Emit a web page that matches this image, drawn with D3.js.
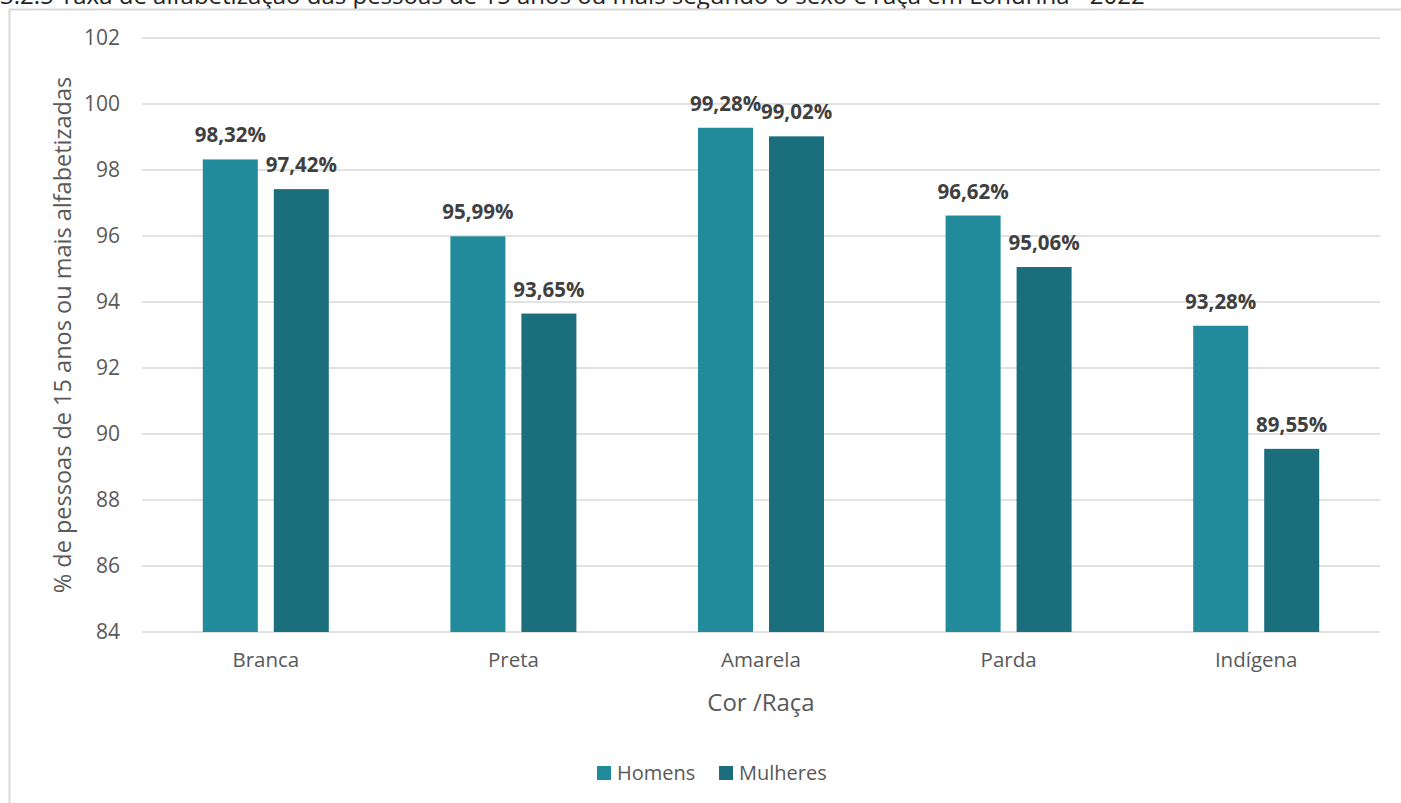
<!DOCTYPE html>
<html lang="pt">
<head>
<meta charset="UTF-8">
<title>Taxa de alfabetização</title>
<script src="https://d3js.org/d3.v7.min.js"></script>
<style>
  body { margin: 0; background: #fff; overflow: hidden; }
  svg { display: block; font-family: "Open Sans", "Noto Sans", sans-serif; }
</style>
</head>
<body>
<svg id="chart" width="1401" height="803"></svg>
<script>
// data
const categories = ["Branca", "Preta", "Amarela", "Parda", "Indígena"];
const seriesNames = ["Homens", "Mulheres"];
const homens = [98.32, 95.99, 99.28, 96.62, 93.28];
const mulheres = [97.42, 93.65, 99.02, 95.06, 89.55];
const yTicks = [84, 86, 88, 90, 92, 94, 96, 98, 100, 102];
const colors = ["#218a9b", "#1b6e7c"];

const svg = d3.select("#chart");

// title (only its lower part shows above the frame)
svg.append("text")
    .attr("x", 0).attr("y", 4)
    .attr("font-size", 24).attr("fill", "#222")
    .text("3.2.5 Taxa de alfabetização das pessoas de 15 anos ou mais segundo o sexo e raça em Londrina - 2022");

// chart frame: top and left edges only, the rest runs off the page
svg.append("path")
    .attr("d", "M9.5,830V9.5H1410")
    .attr("fill", "none").attr("stroke", "#d9d9d9").attr("stroke-width", 2);

const plotLeft = 142, plotRight = 1380, plotTop = 38, plotBottom = 632;

const x0 = d3.scaleBand().domain(categories).range([plotLeft, plotRight]).padding(0);
const x1 = d3.scaleBand().domain(seriesNames).range([-63, 63]).paddingInner(0.2254).paddingOuter(0);
const y = d3.scaleLinear().domain([84, 102]).range([plotBottom, plotTop]);

// gridlines
svg.append("g").selectAll("line").data(yTicks).enter().append("line")
    .attr("x1", plotLeft).attr("x2", plotRight)
    .attr("y1", d => y(d)).attr("y2", d => y(d))
    .attr("stroke", "#d9d9d9").attr("stroke-width", 1.3);

// y axis labels
const yAxis = svg.append("g")
    .attr("transform", `translate(${plotLeft - 22},0)`)
    .call(d3.axisLeft(y).tickValues(yTicks).tickSize(0).tickPadding(0));
yAxis.select(".domain").remove();
yAxis.selectAll("text")
    .attr("font-size", 21).attr("fill", "#595959")
    .attr("font-family", "Open Sans, sans-serif");

// x axis labels
const xAxis = svg.append("g")
    .attr("transform", `translate(0,${plotBottom})`)
    .call(d3.axisBottom(x0).tickSize(0).tickPadding(20));
xAxis.select(".domain").remove();
xAxis.selectAll("text")
    .attr("font-size", 20.5).attr("fill", "#595959")
    .attr("font-family", "Open Sans, sans-serif");

// bars
const rows = categories.map((c, i) => ({ cat: c, vals: [homens[i], mulheres[i]] }));
const groups = svg.append("g").selectAll("g").data(rows).enter().append("g")
    .attr("transform", d => `translate(${x0(d.cat) + x0.bandwidth() / 2},0)`);

groups.selectAll("rect")
    .data(d => d.vals.map((v, j) => ({ s: seriesNames[j], v: v, j: j })))
    .enter().append("rect")
    .attr("x", d => x1(d.s))
    .attr("width", x1.bandwidth())
    .attr("y", d => y(d.v))
    .attr("height", d => plotBottom - y(d.v))
    .attr("fill", d => colors[d.j]);

groups.selectAll("text.lbl")
    .data(d => d.vals.map((v, j) => ({ s: seriesNames[j], v: v })))
    .enter().append("text")
    .attr("class", "lbl")
    .attr("x", d => x1(d.s) + x1.bandwidth() / 2)
    .attr("y", d => y(d.v) - 17)
    .attr("text-anchor", "middle")
    .attr("font-size", 20.5).attr("font-weight", "bold").attr("fill", "#404040")
    .text(d => d.v.toFixed(2).replace(".", ",") + "%");

// axis titles
svg.append("text")
    .attr("x", (plotLeft + plotRight) / 2).attr("y", 711)
    .attr("text-anchor", "middle")
    .attr("font-size", 24).attr("fill", "#595959")
    .text("Cor /Raça");

svg.append("text")
    .attr("transform", `translate(71,${(plotTop + plotBottom) / 2}) rotate(-90)`)
    .attr("text-anchor", "middle")
    .attr("font-size", 23.5).attr("fill", "#595959")
    .text("% de pessoas de 15 anos ou mais alfabetizadas");

// legend
const legendX = [597, 719];
const legend = svg.append("g").selectAll("g").data(seriesNames).enter().append("g")
    .attr("transform", (d, i) => `translate(${legendX[i]},766)`);
legend.append("rect")
    .attr("width", 14).attr("height", 14)
    .attr("fill", (d, i) => colors[i]);
legend.append("text")
    .attr("x", 20).attr("y", 14)
    .attr("font-size", 20).attr("fill", "#595959")
    .text(d => d);
</script>
</body>
</html>
